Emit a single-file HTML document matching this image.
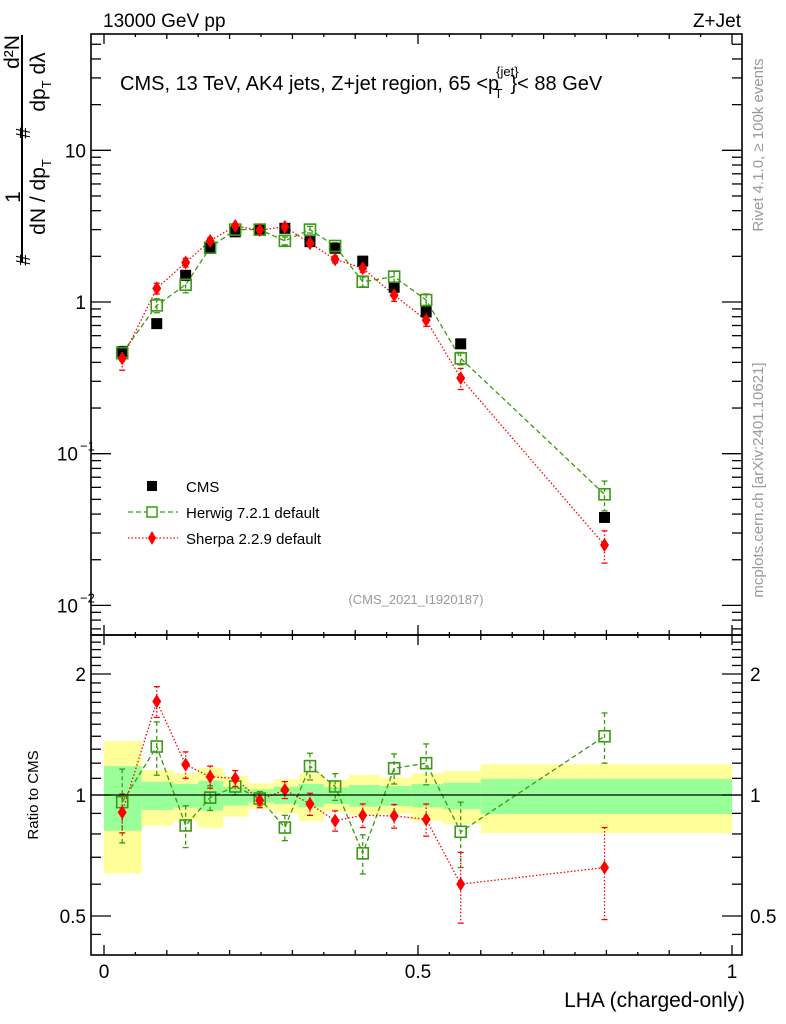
<!DOCTYPE html>
<html><head><meta charset="utf-8"><style>
body{margin:0;background:#fff;}
svg{display:block;font-family:"Liberation Sans",sans-serif;}
</style></head><body>
<svg id="s" width="786" height="1024" xmlns="http://www.w3.org/2000/svg">
<rect x="0" y="0" width="786" height="1024" fill="#fff"/>
<g id="bands"></g>
<g id="marks"></g>
<g id="axes"></g>
<text x="103" y="27" font-size="19">13000 GeV pp</text>
<text x="741" y="27" font-size="19" text-anchor="end">Z+Jet</text>
<text x="120" y="90" font-size="20">CMS, 13 TeV, AK4 jets, Z+jet region, 65 &lt;p<tspan font-size="13" dy="-14" dx="-3">{jet}</tspan><tspan font-size="13" dy="22" dx="-24">T</tspan><tspan dy="-8" dx="8">}&lt; 88 GeV</tspan></text>
<text x="416" y="604" font-size="13" fill="#999" text-anchor="middle">(CMS_2021_I1920187)</text>
<g transform="rotate(-90)">
<text x="-260" y="30" font-size="20" text-anchor="middle">#</text>
<text x="-197" y="20" font-size="21" text-anchor="middle">1</text>
<line x1="-262" y1="22" x2="-35" y2="22" stroke="#000" stroke-width="2"/>
<text x="-197" y="45" font-size="21" text-anchor="middle">dN / dp<tspan font-size="13" dy="6">T</tspan></text>
<text x="-133" y="30" font-size="20" text-anchor="middle">#</text>
<text x="-52" y="19" font-size="21" text-anchor="middle">d²N</text>
<text x="-82" y="45" font-size="21" text-anchor="middle">dp<tspan font-size="13" dy="6">T</tspan><tspan dy="-6"> dλ</tspan></text>
</g>
<text transform="translate(38,795) rotate(-90)" font-size="15" text-anchor="middle">Ratio to CMS</text>
<text transform="translate(763,145) rotate(-90)" font-size="15" fill="#999" text-anchor="middle">Rivet 4.1.0, ≥ 100k events</text>
<text transform="translate(763,480) rotate(-90)" font-size="15" fill="#999" text-anchor="middle">mcplots.cern.ch [arXiv:2401.10621]</text>
<text x="745" y="1007" font-size="21" text-anchor="end">LHA (charged-only)</text>
<g>
<rect x="147" y="481" width="10" height="10" fill="#000"/>
<text x="186" y="492" font-size="15">CMS</text>
<line x1="128" y1="512" x2="178" y2="512" stroke="#3a9a10" stroke-width="1.3" stroke-dasharray="5,3"/>
<rect x="147" y="507" width="10" height="10" fill="#fff" stroke="#3a9a10" stroke-width="1.5"/>
<text x="186" y="518" font-size="15">Herwig 7.2.1 default</text>
<line x1="128" y1="538" x2="178" y2="538" stroke="#f00" stroke-width="1.3" stroke-dasharray="1.5,2"/>
<polygon points="152,531 156,538 152,545 148,538" fill="#f00"/>
<text x="186" y="544" font-size="15">Sherpa 2.2.9 default</text>
</g>
</svg>
<script>
const xs=[0.029,0.084,0.13,0.169,0.209,0.248,0.288,0.328,0.368,0.412,0.462,0.513,0.568,0.797];
const cms=[0.47,0.72,1.5,2.26,2.9,3.0,3.06,2.5,2.26,1.86,1.25,0.86,0.53,0.038];
const herwig=[0.46,0.95,1.3,2.28,3.0,3.0,2.53,3.0,2.34,1.36,1.47,1.03,0.425,0.054];
const herwigErr=[0.05,0.1,0.15,0.15,0.15,0.15,0.15,0.15,0.12,0.1,0.12,0.1,0.04,0.012];
const sherpa=[0.425,1.23,1.82,2.53,3.17,2.98,3.13,2.44,1.91,1.67,1.11,0.76,0.315,0.025];
const sherpaErr=[0.07,0.1,0.12,0.12,0.12,0.1,0.12,0.12,0.1,0.1,0.1,0.07,0.05,0.006];
const herwigRatio=[0.96,1.32,0.84,0.985,1.05,0.98,0.83,1.18,1.05,0.716,1.165,1.2,0.81,1.4];
const herwigRatioErr=[0.2,0.2,0.1,0.07,0.05,0.04,0.06,0.09,0.08,0.08,0.1,0.14,0.15,0.2];
const sherpaRatio=[0.905,1.71,1.19,1.11,1.10,0.97,1.03,0.95,0.863,0.89,0.887,0.87,0.60,0.66];
const sherpaRatioErr=[0.1,0.15,0.09,0.07,0.05,0.04,0.05,0.06,0.05,0.06,0.06,0.08,0.12,0.17];
const binEdges=[0,0.06,0.11,0.15,0.19,0.23,0.27,0.31,0.35,0.39,0.44,0.49,0.54,0.6,1.0];
const yellowHi=[1.362,1.154,1.132,1.169,1.115,1.069,1.094,1.132,1.09,1.121,1.104,1.132,1.147,1.194];
const yellowLo=[0.638,0.839,0.862,0.829,0.883,0.923,0.900,0.862,0.909,0.892,0.897,0.862,0.847,0.803];
const greenHi=[1.18,1.079,1.065,1.085,1.049,1.033,1.049,1.065,1.045,1.059,1.053,1.065,1.073,1.096];
const greenLo=[0.815,0.918,0.930,0.914,0.941,0.957,0.950,0.932,0.950,0.935,0.939,0.932,0.921,0.897];
const L=91,R=742,T=34,MB=635,B=955;
const X=v=>104+v*628;
const Y=v=>302-Math.log10(v)*151.7;
const RY=v=>795-Math.log10(v)*402;
const NS="http://www.w3.org/2000/svg";
function mk(p,t,a){const e=document.createElementNS(NS,t);for(const k in a)e.setAttribute(k,a[k]);p.appendChild(e);return e;}
const bands=document.getElementById('bands'),marks=document.getElementById('marks'),axes=document.getElementById('axes');
for(let i=0;i<binEdges.length-1;i++){
 const x1=X(binEdges[i]),w=X(binEdges[i+1])-x1;
 const y=mk(bands,'rect',{x:x1,y:RY(yellowHi[i]),width:w,height:RY(yellowLo[i])-RY(yellowHi[i]),fill:'#ffff99'});
 
 
 const g=mk(bands,'rect',{x:x1,y:RY(greenHi[i]),width:w,height:RY(greenLo[i])-RY(greenHi[i]),fill:'#99ff99'});
 
 
}
mk(axes,'line',{x1:L,y1:RY(1),x2:R,y2:RY(1),stroke:'#000','stroke-width':1.3});
function line(vals,fy,col,dash,name){
 const pts=xs.map((x,i)=>X(x)+','+fy(vals[i])).join(' ');
 const pl=mk(marks,'polyline',{points:pts,fill:'none',stroke:col,'stroke-width':1.3,'stroke-dasharray':dash});
 
 
}
function errs(vals,err,fy,col,dash,name){
 xs.forEach((x,i)=>{const lo=Math.max(vals[i]-err[i],1e-4);
  const e=mk(marks,'line',{x1:X(x),x2:X(x),y1:fy(vals[i]+err[i]),y2:fy(lo),stroke:col,'stroke-width':1.3,'stroke-dasharray':dash});
  
  
  [fy(vals[i]+err[i]),fy(lo)].forEach(yy=>mk(marks,'line',{x1:X(x)-3,x2:X(x)+3,y1:yy,y2:yy,stroke:col,'stroke-width':1.3}));
 });
}
function sq(vals,fy,name){xs.forEach((x,i)=>{const r=mk(marks,'rect',{x:X(x)-5.5,y:fy(vals[i])-5.5,width:11,height:11,fill:'none',stroke:'#3a9a10','stroke-width':1.6});
 
 });}
function dia(vals,fy,name){xs.forEach((x,i)=>{const cx=X(x),cy=fy(vals[i]);const p=mk(marks,'polygon',{points:`${cx},${cy-7} ${cx+4.5},${cy} ${cx},${cy+7} ${cx-4.5},${cy}`,fill:'#f00'});
 
 });}
errs(herwig,herwigErr,Y,'#3a9a10','4,3','herwig-error-bar');
errs(sherpa,sherpaErr,Y,'#f00','1.5,2','sherpa-error-bar');
line(herwig,Y,'#3a9a10','5,3','herwig-line');
line(sherpa,Y,'#f00','1.5,2','sherpa-line');
xs.forEach((x,i)=>{const r=mk(marks,'rect',{x:X(x)-5.5,y:Y(cms[i])-5.5,width:11,height:11,fill:'#000'});
 
 });
sq(herwig,Y,'herwig-point');dia(sherpa,Y,'sherpa-point');
errs(herwigRatio,herwigRatioErr,RY,'#3a9a10','4,3','herwig-ratio-error-bar');
errs(sherpaRatio,sherpaRatioErr,RY,'#f00','1.5,2','sherpa-ratio-error-bar');
line(herwigRatio,RY,'#3a9a10','5,3','herwig-ratio-line');
line(sherpaRatio,RY,'#f00','1.5,2','sherpa-ratio-line');
sq(herwigRatio,RY,'herwig-ratio-point');dia(sherpaRatio,RY,'sherpa-ratio-point');
[[T,MB],[MB,B]].forEach(([t,b])=>mk(axes,'rect',{x:L,y:t,width:R-L,height:b-t,fill:'none',stroke:'#000','stroke-width':1.6}));
for(let k=0;k<=20;k++){const v=k*0.05,x=X(v);const len=(k%10==0)?10:(k%2==0?5:3);
 [[T,1],[MB,-1],[MB,1],[B,-1]].forEach(([y0,d])=>mk(axes,'line',{x1:x,x2:x,y1:y0,y2:y0+d*len,stroke:'#000','stroke-width':1.3}));}
[[0,'0'],[0.5,'0.5'],[1,'1']].forEach(([v,t])=>{const e=mk(axes,'text',{x:X(v),y:978,'font-size':19,'text-anchor':'middle'});e.textContent=t;
 
 });
for(let d=-3;d<=2;d++)for(let m=1;m<10;m++){const v=m*Math.pow(10,d),y=Y(v);if(y<T||y>MB)continue;const len=m==1?20:10;
 mk(axes,'line',{x1:L,x2:L+len,y1:y,y2:y,stroke:'#000','stroke-width':1.3});
 mk(axes,'line',{x1:R,x2:R-len,y1:y,y2:y,stroke:'#000','stroke-width':1.3});}
const ml=[[10,'10',''],[1,'1',''],[0.1,'10','−1'],[0.01,'10','−2']];
ml.forEach(([v,b,ex])=>{const e=mk(axes,'text',{x:ex?78:86,y:Y(v)+7,'font-size':19,'text-anchor':'end'});e.textContent=b;
 
 
 if(ex){const s=mk(axes,'text',{x:80,y:Y(v)-3,'font-size':13});s.textContent=ex;}});
[0.5,0.6,0.7,0.8,0.9,1,2].forEach(v=>{const y=RY(v),len=(v==0.5||v==1||v==2)?20:10;
 mk(axes,'line',{x1:L,x2:L+len,y1:y,y2:y,stroke:'#000','stroke-width':1.3});
 mk(axes,'line',{x1:R,x2:R-len,y1:y,y2:y,stroke:'#000','stroke-width':1.3});});
[1.1,1.2,1.3,1.4,1.5,1.6,1.7,1.8,1.9,2.1,2.2,2.3,2.4,0.45].forEach(v=>{const y=RY(v);
 mk(axes,'line',{x1:L,x2:L+10,y1:y,y2:y,stroke:'#000','stroke-width':1.3});
 mk(axes,'line',{x1:R,x2:R-10,y1:y,y2:y,stroke:'#000','stroke-width':1.3});});
[[2,'2'],[1,'1'],[0.5,'0.5']].forEach(([v,t])=>{
 const a=mk(axes,'text',{x:86,y:RY(v)+7,'font-size':19,'text-anchor':'end'});a.textContent=t;
 
 
 const b=mk(axes,'text',{x:750,y:RY(v)+7,'font-size':19});b.textContent=t;
 
 });
</script>
</body></html>
